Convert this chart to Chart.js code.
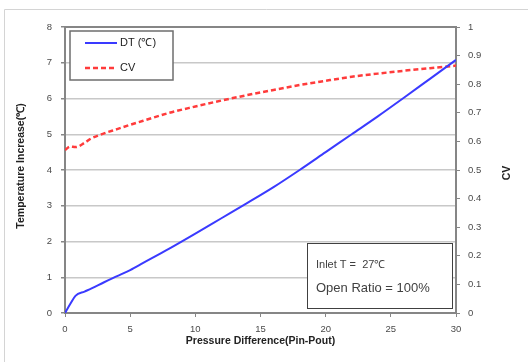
<!DOCTYPE html>
<html>
<head>
<meta charset="utf-8">
<script src="https://cdn.jsdelivr.net/npm/chart.js@4.4.0/dist/chart.umd.min.js"></script>
<style>
    html, body { margin: 0; padding: 0; background: #fff; }
    #wrap { width: 528px; height: 362px; position: relative; }
</style>
</head>
<body>
<div id="wrap"><canvas id="chart"></canvas></div>
<script>
// Readings
const pressure = [0, 0.4, 0.8, 1.5, 2, 3, 4, 5, 6, 8, 10, 12, 14, 16, 18, 20, 22, 24, 26, 28, 30];
const dtValues = [0, 0.25, 0.48, 0.6, 0.68, 0.86, 1.03, 1.2, 1.4, 1.8, 2.22, 2.65, 3.08, 3.52, 4.0, 4.5, 5.0, 5.5, 6.02, 6.55, 7.08];
const cvValues = [0.57, 0.582, 0.58, 0.595, 0.61, 0.628, 0.643, 0.658, 0.672, 0.7, 0.722, 0.743, 0.762, 0.78, 0.797, 0.812, 0.826, 0.837, 0.847, 0.856, 0.865];

const seriesLabels = ['DT (\u2103)', 'CV'];
const xTitle = 'Pressure Difference(Pin-Pout)';
const yTitle = 'Temperature Increase(\u2103)';
const y2Title = 'CV';
const noteLines = ['Inlet T =  27\u2103', 'Open Ratio = 100%'];

const FONT = '"Liberation Sans", Arial, sans-serif';
const tickFont = { family: FONT, size: 9.5 };

// frame, legend box, note box and axis titles drawn on the canvas
const decorPlugin = {
    id: 'decor',
    beforeDraw(chart) {
        const ctx = chart.ctx;
        ctx.save();
        ctx.strokeStyle = '#d4d4d4';
        ctx.lineWidth = 1;
        ctx.beginPath();
        ctx.moveTo(4.5, 400);
        ctx.lineTo(4.5, 9.5);
        ctx.lineTo(600, 9.5);
        ctx.stroke();
        ctx.restore();
    },
    beforeDatasetsDraw(chart) {
        const ctx = chart.ctx;
        const a = chart.chartArea;
        ctx.save();
        ctx.strokeStyle = '#868686';
        ctx.lineWidth = 2;
        ctx.strokeRect(a.left, a.top, a.right - a.left, a.bottom - a.top);
        ctx.restore();
    },
    afterDatasetsDraw(chart) {
        const ctx = chart.ctx;
        const a = chart.chartArea;
        const ds = chart.data.datasets;
        ctx.save();

        // legend
        const lx = a.left + 5, ly = a.top + 4;
        ctx.fillStyle = '#fff';
        ctx.fillRect(lx, ly, 103, 49);
        ctx.strokeStyle = '#6e6e6e';
        ctx.lineWidth = 1.5;
        ctx.strokeRect(lx, ly, 103, 49);
        ctx.font = '11px ' + FONT;
        ctx.textBaseline = 'middle';
        ds.forEach((d, i) => {
            const yy = ly + 12 + i * 25;
            ctx.strokeStyle = d.borderColor;
            ctx.lineWidth = d.borderWidth;
            ctx.setLineDash(d.borderDash || []);
            ctx.beginPath();
            ctx.moveTo(lx + 15, yy);
            ctx.lineTo(lx + 47, yy);
            ctx.stroke();
            ctx.setLineDash([]);
            ctx.fillStyle = '#222';
            ctx.fillText(d.label, lx + 50, yy);
        });

        // note box
        const nx = 307, ny = 243;
        ctx.fillStyle = '#fff';
        ctx.fillRect(nx, ny, 145, 65);
        ctx.strokeStyle = '#404040';
        ctx.lineWidth = 1;
        ctx.strokeRect(nx + 0.5, ny + 0.5, 145, 65);
        ctx.fillStyle = '#404040';
        ctx.font = '11px ' + FONT;
        ctx.fillText(noteLines[0], nx + 9, ny + 22);
        ctx.font = '13px ' + FONT;
        ctx.fillText(noteLines[1], nx + 9, ny + 45);

        // axis titles
        ctx.fillStyle = '#222';
        ctx.font = 'bold 10.5px ' + FONT;
        ctx.textAlign = 'center';
        ctx.fillText(xTitle, (a.left + a.right) / 2, 341);
        ctx.save();
        ctx.translate(21, (a.top + a.bottom) / 2 - 4);
        ctx.rotate(-Math.PI / 2);
        ctx.fillText(yTitle, 0, 0);
        ctx.restore();
        ctx.save();
        ctx.translate(507, (a.top + a.bottom) / 2 + 3);
        ctx.rotate(-Math.PI / 2);
        ctx.fillText(y2Title, 0, 0);
        ctx.restore();

        ctx.restore();
    }
};

new Chart(document.getElementById('chart'), {
    type: 'line',
    data: {
        datasets: [
            {
                label: seriesLabels[0],
                data: pressure.map((p, i) => ({ x: p, y: dtValues[i] })),
                borderColor: '#3a3aff',
                borderWidth: 2,
                pointRadius: 0,
                cubicInterpolationMode: 'monotone',
                yAxisID: 'y'
            },
            {
                label: seriesLabels[1],
                data: pressure.map((p, i) => ({ x: p, y: cvValues[i] })),
                borderColor: '#ff3b3b',
                borderWidth: 2.5,
                borderDash: [5, 3],
                pointRadius: 0,
                cubicInterpolationMode: 'monotone',
                yAxisID: 'y2'
            }
        ]
    },
    options: {
        responsive: true,
        maintainAspectRatio: false,
        animation: false,
        layout: { padding: { top: 27, left: 0, right: 0, bottom: 0 } },
        plugins: {
            legend: { display: false },
            tooltip: { enabled: false }
        },
        scales: {
            x: {
                type: 'linear',
                min: 0,
                max: 30,
                afterFit: s => { s.height = 49; },
                ticks: { stepSize: 5, font: tickFont, color: '#4a4a4a', padding: 7, maxRotation: 0 },
                grid: { drawOnChartArea: false, tickLength: 4, tickColor: '#868686' },
                border: { display: false }
            },
            y: {
                position: 'left',
                min: 0,
                max: 8,
                afterFit: s => { s.width = 65; },
                ticks: { stepSize: 1, font: tickFont, color: '#4a4a4a', padding: 9 },
                grid: { color: '#c8c8c8', lineWidth: 1.5, tickLength: 4, tickColor: '#868686' },
                border: { display: false }
            },
            y2: {
                position: 'right',
                min: 0,
                max: 1,
                afterFit: s => { s.width = 72; },
                ticks: {
                    stepSize: 0.1,
                    font: tickFont,
                    color: '#4a4a4a',
                    padding: 8,
                    callback: v => String(Math.round(v * 10) / 10)
                },
                grid: { drawOnChartArea: false, tickLength: 4, tickColor: '#868686' },
                border: { display: false }
            }
        }
    },
    plugins: [decorPlugin]
});
</script>
</body>
</html>
